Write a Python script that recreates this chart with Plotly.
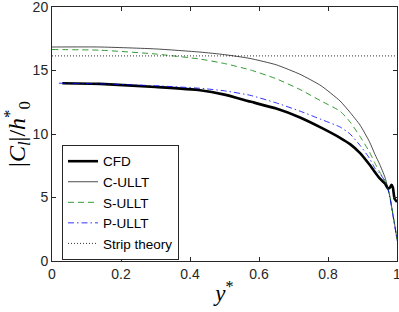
import plotly.graph_objects as go

# CFD
cfd_x = [0.03, 0.139, 0.3, 0.429, 0.5, 0.574, 0.65, 0.719, 0.78, 0.835, 0.864, 0.893, 0.92, 0.936, 0.95, 0.965, 0.974, 0.98, 0.984, 0.988, 0.993, 1.0]
cfd_y = [14.0, 13.95, 13.7, 13.45, 13.1, 12.55, 12.0, 11.3, 10.5, 9.7, 9.2, 8.5, 7.6, 7.0, 6.5, 6.1, 5.7, 5.8, 6.0, 5.8, 4.9, 4.65]

# C-ULLT
c_x = [0.0, 0.139, 0.3, 0.429, 0.5, 0.574, 0.65, 0.719, 0.78, 0.835, 0.864, 0.893, 0.92, 0.936, 0.95, 0.965, 0.974, 0.98, 0.988, 0.995, 1.0]
c_y = [16.85, 16.85, 16.7, 16.45, 16.25, 15.95, 15.45, 14.7, 13.8, 12.6, 11.7, 10.7, 9.4, 8.4, 7.6, 6.6, 5.7, 5.0, 3.7, 2.6, 1.7]

# S-ULLT
s_x = [0.0, 0.139, 0.3, 0.429, 0.5, 0.574, 0.65, 0.719, 0.78, 0.835, 0.864, 0.893, 0.92, 0.936, 0.95, 0.965, 0.974, 0.98, 0.988, 0.995, 1.0]
s_y = [16.65, 16.6, 16.3, 15.9, 15.55, 15.05, 14.35, 13.5, 12.6, 11.8, 10.95, 9.8, 8.6, 7.7, 7.0, 6.3, 5.7, 5.0, 3.7, 2.6, 1.7]

# P-ULLT
p_x = [0.02, 0.139, 0.3, 0.429, 0.5, 0.574, 0.65, 0.719, 0.78, 0.835, 0.864, 0.893, 0.92, 0.936, 0.95, 0.965, 0.974, 0.98, 0.988, 0.995, 1.0]
p_y = [14.0, 13.95, 13.8, 13.6, 13.4, 13.05, 12.45, 11.8, 11.15, 10.55, 10.0, 9.1, 8.1, 7.3, 6.9, 6.3, 5.6, 4.9, 3.6, 2.5, 1.6]

# Strip theory
strip_x = [0.0, 1.0]
strip_y = [16.15, 16.15]

x_ticks = [0, 0.2, 0.4, 0.6, 0.8, 1]
x_ticklabels = ["0", "0.2", "0.4", "0.6", "0.8", "1"]
y_ticks = [0, 5, 10, 15, 20]
y_ticklabels = ["0", "5", "10", "15", "20"]

fig = go.Figure()
fig.add_trace(go.Scatter(x=cfd_x, y=cfd_y, mode="lines", name="CFD",
                         line=dict(color="black", width=2.6, shape="spline", smoothing=0.5)))
fig.add_trace(go.Scatter(x=c_x, y=c_y, mode="lines", name="C-ULLT",
                         line=dict(color="black", width=0.7, shape="spline", smoothing=0.5)))
fig.add_trace(go.Scatter(x=s_x, y=s_y, mode="lines", name="S-ULLT",
                         line=dict(color="#008000", width=0.8, dash="6px,4px", shape="spline", smoothing=0.5)))
fig.add_trace(go.Scatter(x=p_x, y=p_y, mode="lines", name="P-ULLT",
                         line=dict(color="#0000ff", width=0.8, dash="6px,3px,1.5px,3px", shape="spline", smoothing=0.5)))
fig.add_trace(go.Scatter(x=strip_x, y=strip_y, mode="lines", name="Strip theory",
                         line=dict(color="black", width=0.8, dash="1px,2px")))

axis_common = dict(
    showgrid=False, zeroline=False, showline=True, mirror="ticks",
    linecolor="#262626", linewidth=1, ticks="inside", ticklen=4,
    tickcolor="#262626", tickwidth=1, ticklabeloverflow="allow", automargin=False,
    tickfont=dict(family="Liberation Sans, Arial, sans-serif", size=14, color="#262626"),
)

fig.update_xaxes(range=[0, 1], tickvals=x_ticks, ticktext=x_ticklabels,
                 title=dict(text="<i>y</i><sup>*</sup>",
                            font=dict(family="Liberation Serif, DejaVu Serif, serif", size=23, color="black"),
                            standoff=4),
                 **axis_common)
fig.update_yaxes(range=[0, 20], tickvals=y_ticks, ticktext=y_ticklabels,
                 title=dict(text="|<i>C<sub>l</sub></i>|/<i>h</i><sup>*</sup><sub>0</sub>",
                            font=dict(family="Liberation Serif, DejaVu Serif, serif", size=24, color="black"),
                            standoff=2),
                 **axis_common)

fig.update_layout(
    width=399, height=312,
    margin=dict(l=52, r=2, t=7, b=51),
    plot_bgcolor="white", paper_bgcolor="white",
    showlegend=True,
    legend=dict(x=0.029, y=0.457, xanchor="left", yanchor="top",
                bgcolor="white", bordercolor="#262626", borderwidth=1,
                font=dict(family="Liberation Sans, Arial, sans-serif", size=13.5, color="black"),
                itemwidth=30, tracegroupgap=0),
)

fig.write_html("out.html", config={"displayModeBar": False},
               post_script="document.body.style.margin='0';document.body.style.overflow='hidden';")
